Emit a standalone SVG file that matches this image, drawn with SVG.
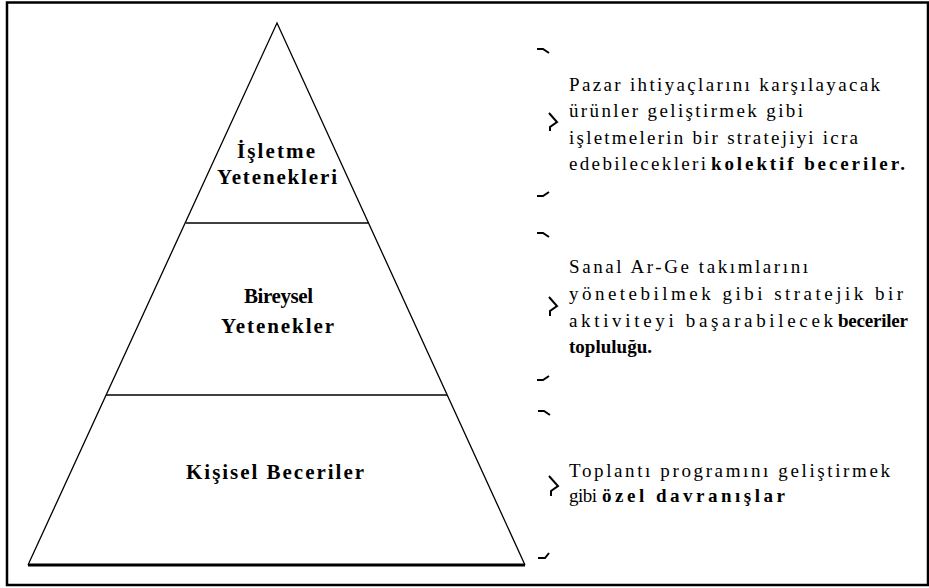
<svg xmlns="http://www.w3.org/2000/svg" width="929" height="588" viewBox="0 0 929 588">
<style>
.t{font-family:"Liberation Serif","Times New Roman",serif;font-size:19px;fill:#000}
.b{font-weight:bold}
.lab{font-family:"Liberation Serif","Times New Roman",serif;font-size:21px;font-weight:bold;fill:#000}
.edge{stroke:#000;stroke-width:1.3;fill:none}
.mk{stroke:#000;stroke-width:2;fill:none;stroke-linecap:butt;stroke-linejoin:miter}
</style>
<rect x="0" y="0" width="929" height="588" fill="#fff"/>
<rect id="frame" x="7" y="2.5" width="921" height="582.5" fill="none" stroke="#000" stroke-width="2.5"/>
<g id="pyramid">
  <path class="edge" d="M28,565 L277,23 L525,565"/>
  <line x1="28" y1="565" x2="525" y2="565" stroke="#000" stroke-width="3"/>
  <line x1="186" y1="223" x2="369" y2="223" stroke="#000" stroke-width="1.3"/>
  <line x1="106" y1="395" x2="447" y2="395" stroke="#000" stroke-width="1.3"/>
</g>
<g id="level1">
  <text class="lab" x="237" y="158" textLength="78" lengthAdjust="spacing">İşletme</text>
  <text class="lab" x="217" y="184" textLength="120" lengthAdjust="spacing">Yetenekleri</text>
</g>
<g id="level2">
  <text class="lab" x="244" y="303" textLength="69" lengthAdjust="spacing">Bireysel</text>
  <text class="lab" x="221" y="333" textLength="113" lengthAdjust="spacing">Yetenekler</text>
</g>
<g id="level3">
  <text class="lab" x="186" y="479" textLength="178" lengthAdjust="spacing">Kişisel Beceriler</text>
</g>
<g id="connectors">
  <path class="mk" d="M537,49 L543,49 L549,53"/>
  <path class="mk" d="M549,113 L557,122 L550,127 L550,131"/>
  <path class="mk" d="M537,196 L543,196 L549,192"/>
  <path class="mk" d="M537,233 L543,233 L549,237"/>
  <path class="mk" d="M549,297 L557,306 L550,311 L550,316"/>
  <path class="mk" d="M537,380 L543,380 L549,376"/>
  <path class="mk" d="M538,411 L544,411 L550,415"/>
  <path class="mk" d="M549,476 L558,486 L551,491 L551,496"/>
  <path class="mk" d="M538,558 L545,558 L549,553"/>
</g>
<g id="desc1">
  <text class="t" x="569" y="91" textLength="311" lengthAdjust="spacing">Pazar ihtiyaçlarını karşılayacak</text>
  <text class="t" x="569" y="117" textLength="234" lengthAdjust="spacing">ürünler geliştirmek gibi</text>
  <text class="t" x="569" y="144" textLength="289" lengthAdjust="spacing">işletmelerin bir stratejiyi icra</text>
  <text class="t" x="569" y="170" textLength="137" lengthAdjust="spacing">edebilecekleri</text>
  <text class="t b" x="711" y="170" textLength="194" lengthAdjust="spacing">kolektif beceriler.</text>
</g>
<g id="desc2">
  <text class="t" x="569" y="273" textLength="239" lengthAdjust="spacing">Sanal Ar-Ge takımlarını</text>
  <text class="t" x="569" y="300" textLength="334" lengthAdjust="spacing">yönetebilmek gibi stratejik bir</text>
  <text class="t" x="569" y="327" textLength="264" lengthAdjust="spacing">aktiviteyi başarabilecek</text>
  <text class="t b" x="838" y="327" textLength="70" lengthAdjust="spacing">beceriler</text>
  <text class="t b" x="569" y="353" textLength="83" lengthAdjust="spacing">topluluğu.</text>
</g>
<g id="desc3">
  <text class="t" x="569" y="477" textLength="321" lengthAdjust="spacing">Toplantı programını geliştirmek</text>
  <text class="t" x="569" y="502" textLength="28" lengthAdjust="spacing">gibi</text>
  <text class="t b" x="602" y="502" textLength="183" lengthAdjust="spacing">özel davranışlar</text>
</g>
</svg>
